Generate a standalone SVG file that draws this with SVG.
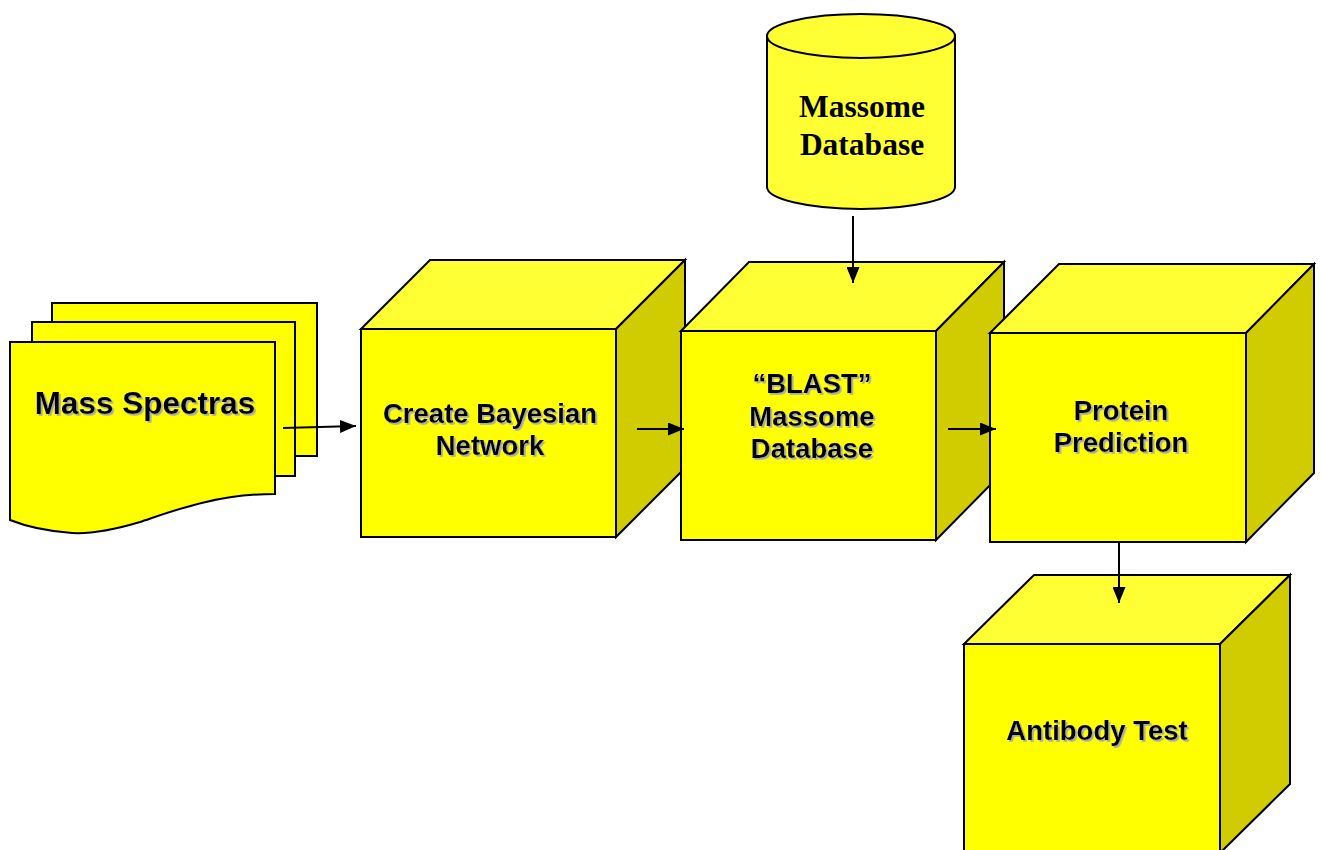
<svg xmlns="http://www.w3.org/2000/svg" width="1321" height="850" viewBox="0 0 1321 850">
<defs>
<style>
.front{fill:#FFFF00;stroke:#000;stroke-width:2;stroke-linejoin:miter}
.top{fill:#FFFF33;stroke:#000;stroke-width:2}
.side{fill:#D0CC00;stroke:#000;stroke-width:2}
.page{fill:#FFFF00;stroke:#000;stroke-width:2}
.cyl{fill:#FFFF33;stroke:#000;stroke-width:2}
.lbl{font-family:"Liberation Sans",Arial,sans-serif;font-weight:bold;font-size:27.5px;fill:#000;text-anchor:middle;filter:url(#sh)}
.big{font-size:31.5px}
.db{font-family:"Liberation Serif","Times New Roman",serif;font-weight:bold;font-size:31.5px;fill:#000;text-anchor:middle}
.conn{stroke:#000;stroke-width:2;fill:none}
</style>
<filter id="sh" x="-10%" y="-30%" width="120%" height="160%">
<feDropShadow dx="1.8" dy="1.8" stdDeviation="0.3" flood-color="#aaaaaa" flood-opacity="1"/>
</filter>
<marker id="ah" markerWidth="16" markerHeight="13" refX="16" refY="6.5" orient="auto" markerUnits="userSpaceOnUse">
<path d="M0,0 L16,6.5 L0,13 Z" fill="#000"/>
</marker>
</defs>
<rect width="1321" height="850" fill="#fff"/>

<g id="node-mass-spectras">
<rect class="page" x="52" y="303" width="265" height="153"/>
<rect class="page" x="32" y="322" width="263" height="154"/>
<path class="page" d="M10,342 H275 V494 C215,494 170,512 140,522 C110,531 90,534 72,533 C45,531 25,526 10,520 Z"/>
<text class="lbl big" x="145" y="414">Mass Spectras</text>
</g>

<g id="node-bayesian">
<polygon class="top" points="361,329 430,260 685,260 616,329"/>
<polygon class="side" points="616,329 685,260 685,468 616,537"/>
<rect class="front" x="361" y="329" width="255" height="208"/>
<text class="lbl" x="490" y="423">Create Bayesian</text>
<text class="lbl" x="490" y="455">Network</text>
</g>

<g id="node-blast">
<polygon class="top" points="681,331 749,262 1004,262 936,331"/>
<polygon class="side" points="936,331 1004,262 1004,471 936,540"/>
<rect class="front" x="681" y="331" width="255" height="209"/>
<text class="lbl" x="812" y="393">“BLAST”</text>
<text class="lbl" x="812" y="426">Massome</text>
<text class="lbl" x="812" y="458">Database</text>
</g>

<g id="node-protein">
<polygon class="top" points="990,333 1059,264 1314,264 1246,333"/>
<polygon class="side" points="1246,333 1314,264 1314,473 1246,542"/>
<rect class="front" x="990" y="333" width="256" height="209"/>
<text class="lbl" x="1121" y="420">Protein</text>
<text class="lbl" x="1121" y="452">Prediction</text>
</g>

<g id="node-antibody">
<polygon class="top" points="964,644 1034,575 1290,575 1220,644"/>
<polygon class="side" points="1220,644 1290,575 1290,784 1220,853"/>
<rect class="front" x="964" y="644" width="256" height="212"/>
<text class="lbl" x="1097" y="740">Antibody Test</text>
</g>

<g id="node-massome-db">
<path class="cyl" d="M767,36 V187 A94,22 0 0 0 955,187 V36"/>
<ellipse class="cyl" cx="861" cy="36" rx="94" ry="22"/>
<text class="db" x="862" y="117">Massome</text>
<text class="db" x="862" y="155">Database</text>
</g>

<g id="connectors">
<line class="conn" x1="283" y1="428" x2="356" y2="426" marker-end="url(#ah)"/>
<line class="conn" x1="637" y1="429" x2="684" y2="429" marker-end="url(#ah)"/>
<line class="conn" x1="948" y1="429" x2="996" y2="429" marker-end="url(#ah)"/>
<line class="conn" x1="853" y1="216" x2="853" y2="283" marker-end="url(#ah)"/>
<line class="conn" x1="1119" y1="542" x2="1119" y2="603" marker-end="url(#ah)"/>
</g>
</svg>
